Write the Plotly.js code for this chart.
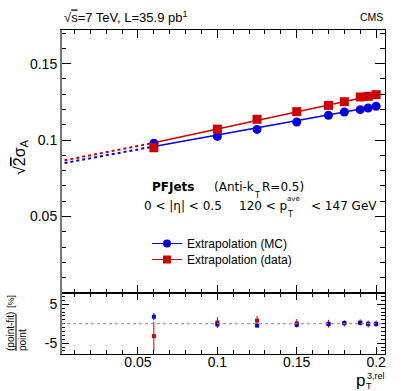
<!DOCTYPE html>
<html>
<head>
<meta charset="utf-8">
<script src="https://cdn.plot.ly/plotly-3.0.1.min.js"></script>
<style>html,body{margin:0;padding:0;background:#fff;}#chart{width:407px;height:391px;}</style>
</head>
<body>
<div id="chart"></div>
<script>
// ---- data ----
const ptRel = [0.06, 0.1, 0.125, 0.15, 0.17, 0.18, 0.19, 0.195, 0.2];
const sigmaMC   = [0.0980, 0.1024, 0.1070, 0.1118, 0.1162, 0.1184, 0.1199, 0.1210, 0.1221];
const sigmaData = [0.0950, 0.1072, 0.1136, 0.1186, 0.1227, 0.1251, 0.1282, 0.1286, 0.1297];

// fit lines (values of the fitted line read at these x)
const fitXExtrap = [0, 0.06];
const fitXRange  = [0.06, 0.2];
const fitMCExtrap   = [0.0843, 0.0958];
const fitMCRange    = [0.0958, 0.1222];
const fitDataExtrap = [0.0860, 0.0982];
const fitDataRange  = [0.0982, 0.1297];

// residuals (point-fit)/point [%]
const resMC      = [1.8, -0.2, -0.5, -0.3, -0.1, 0.2, 0.2, 0.0, -0.1];
const resMCErr   = [0.9, 0.3, 0.3, 0.3, 0.3, 0.3, 0.3, 0.3, 0.3];
const resData    = [-3.2, 0.3, 0.8, 0.1, 0.0, 0.1, 0.3, -0.1, 0.0];
const resDataErr = [3.7, 1.4, 1.2, 1.1, 1.0, 0.8, 0.8, 0.9, 0.8];

const xTicks = [0.05, 0.1, 0.15, 0.2];
const yTicks = [0.05, 0.1, 0.15];
const resTicks = [-5, 5];

const BLUE = '#0000dd', RED = '#cc0000';
const FONT = 'Liberation Sans, Arial, sans-serif';
const FONT2 = 'DejaVu Sans, sans-serif';

const traces = [
  {x: fitXExtrap, y: fitMCExtrap, mode: 'lines', line: {color: BLUE, width: 2, dash: 'dot'}, showlegend: false, xaxis: 'x2', yaxis: 'y'},
  {x: fitXExtrap, y: fitDataExtrap, mode: 'lines', line: {color: RED, width: 2, dash: 'dot'}, showlegend: false, xaxis: 'x2', yaxis: 'y'},
  {x: fitXRange, y: fitMCRange, mode: 'lines', line: {color: BLUE, width: 1.5}, showlegend: false, xaxis: 'x2', yaxis: 'y'},
  {x: fitXRange, y: fitDataRange, mode: 'lines', line: {color: RED, width: 1.5}, showlegend: false, xaxis: 'x2', yaxis: 'y'},
  {x: ptRel, y: sigmaMC, mode: 'markers', marker: {color: BLUE, size: 9, symbol: 'circle'}, showlegend: false, xaxis: 'x2', yaxis: 'y'},
  {x: ptRel, y: sigmaData, mode: 'markers', marker: {color: RED, size: 9, symbol: 'square'}, showlegend: false, xaxis: 'x2', yaxis: 'y'},
  {x: [null], y: [null], mode: 'lines+markers', name: 'Extrapolation (MC)', legend: 'legend', line: {color: BLUE, width: 1}, marker: {color: BLUE, size: 8, symbol: 'circle'}, xaxis: 'x2', yaxis: 'y'},
  {x: [null], y: [null], mode: 'lines+markers', name: 'Extrapolation (data)', legend: 'legend2', line: {color: RED, width: 1}, marker: {color: RED, size: 8, symbol: 'square'}, xaxis: 'x2', yaxis: 'y'},
  {x: ptRel, y: resData, mode: 'markers', marker: {color: RED, size: 4, symbol: 'square'}, error_y: {type: 'data', array: resDataErr, visible: true, color: RED, thickness: 1, width: 0}, showlegend: false, xaxis: 'x', yaxis: 'y2'},
  {x: ptRel, y: resMC, mode: 'markers', marker: {color: BLUE, size: 4, symbol: 'square'}, error_y: {type: 'data', array: resMCErr, visible: true, color: BLUE, thickness: 1, width: 0}, showlegend: false, xaxis: 'x', yaxis: 'y2'}
];

const L = 61, T = 30, W = 324, H = 324, B = 354;
const px = v => (v - L) / W;
const py = v => (B - v) / H;
const split = (354 - 293) / H;

const axCommon = {
  showgrid: false, zeroline: false, ticks: 'inside', mirror: 'allticks',
  showline: true, linecolor: '#000', linewidth: 1, tickcolor: '#000',
  tickfont: {family: FONT, size: 14, color: '#000'}
};

function ann(text, x, y, size, opts) {
  return Object.assign({text: text, xref: 'paper', yref: 'paper', x: px(x), y: py(y),
    xanchor: 'left', yanchor: 'middle', showarrow: false, font: {family: FONT2, size: size, color: '#000'}}, opts || {});
}

const legendBase = {xanchor: 'left', yanchor: 'top', bgcolor: 'rgba(0,0,0,0)',
  font: {family: FONT, size: 12, color: '#000'}, itemwidth: 30};

const layout = {
  width: 407, height: 391,
  margin: {l: L, r: 407 - L - W, t: T, b: 391 - B, pad: 0},
  paper_bgcolor: '#fff', plot_bgcolor: '#fff',
  font: {family: FONT, color: '#000'},
  showlegend: true,
  legend: Object.assign({}, legendBase, {x: px(147), y: py(229)}),
  legend2: Object.assign({}, legendBase, {x: px(147), y: py(245)}),
  xaxis: Object.assign({}, axCommon, {
    domain: [0, 1], anchor: 'y2', range: [0.0015, 0.2056],
    tickmode: 'array', tickvals: xTicks, ticktext: ['0.05', '0.1', '0.15', '0.2'], ticklen: 7,
    ticklabelstandoff: -5,
    minor: {ticks: 'inside', tick0: 0, dtick: 0.01, ticklen: 4, tickcolor: '#000'}
  }),
  xaxis2: Object.assign({}, axCommon, {
    domain: [0, 1], anchor: 'y', matches: 'x', showticklabels: false,
    tickmode: 'array', tickvals: xTicks, ticklen: 8,
    minor: {ticks: 'inside', tick0: 0, dtick: 0.01, ticklen: 4, tickcolor: '#000'}
  }),
  yaxis: Object.assign({}, axCommon, {
    domain: [split, 1], anchor: 'x2', range: [0, 0.172],
    tickmode: 'array', tickvals: yTicks, ticktext: ['0.05', '0.1', '0.15'], ticklen: 10,
    minor: {ticks: 'inside', tick0: 0, dtick: 0.01, ticklen: 5, tickcolor: '#000'}
  }),
  yaxis2: Object.assign({}, axCommon, {
    domain: [0, split], anchor: 'x', range: [-7.8, 7.9],
    tickmode: 'array', tickvals: resTicks, ticktext: ['-5', '5'], ticklen: 8,
    minor: {ticks: 'inside', tick0: 0, dtick: 1, ticklen: 4, tickcolor: '#000'}
  }),
  shapes: [
    {type: 'line', xref: 'paper', x0: 0, x1: 1, yref: 'y2', y0: 0, y1: 0, line: {color: '#888', width: 1, dash: 'dot'}},
    {type: 'line', xref: 'paper', x0: 0, x1: 0, yref: 'paper', y0: 0, y1: 1, line: {color: '#777', width: 2}},
    {type: 'line', xref: 'paper', x0: px(16), x1: px(16), yref: 'paper', y0: py(314), y1: py(351), line: {color: '#000', width: 1}}
  ],
  annotations: [
    ann('√<span style="text-decoration:overline">s</span>=7 TeV, L=35.9 pb<sup>1</sup>', 62, 17, 13, {font: {family: FONT, size: 13}}),
    ann('CMS', 385, 17, 10.5, {xanchor: 'right', font: {family: FONT, size: 10.5}}),
    ann('√<span style="text-decoration:overline">2</span>σ<sub>A</sub>', 20, 157, 16, {xanchor: 'center', textangle: -90, font: {family: FONT, size: 16}}),
    ann('<b>PFJets</b>', 150, 187, 12),
    ann('(Anti-k', 212, 187, 12),
    ann('T', 252, 195, 8),
    ann('R=0.5)', 260, 187, 12),
    ann('0 &lt; |η| &lt; 0.5', 142, 206, 12),
    ann('120 &lt; p', 237, 206, 12),
    ann('ave', 285, 199, 7),
    ann('T', 285, 214, 8),
    ann('&lt; 147 GeV', 309, 206, 12),
    ann('(point-fit)', 10, 332, 10, {xanchor: 'center', textangle: -90, font: {family: FONT, size: 10}}),
    ann('point', 22, 340, 10, {xanchor: 'center', textangle: -90, font: {family: FONT, size: 10}}),
    ann('[%]', 11, 302, 9, {xanchor: 'center', textangle: -90, font: {family: FONT, size: 9}}),
    ann('p', 360, 380, 17, {xanchor: 'center', font: {family: FONT, size: 17}}),
    ann('3,rel', 365, 376, 9, {font: {family: FONT, size: 9}}),
    ann('T', 364, 386, 9, {font: {family: FONT, size: 9}})
  ]
};

Plotly.newPlot('chart', traces, layout, {displayModeBar: false, staticPlot: true});
</script>
</body>
</html>
